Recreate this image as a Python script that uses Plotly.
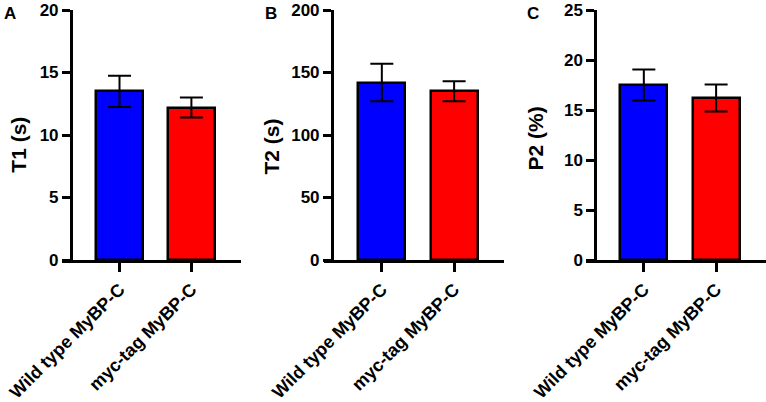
import plotly.graph_objects as go

categories = ["Wild type MyBP-C", "myc-tag MyBP-C"]
bar_colors = ["#0000FF", "#FF0000"]

t1_mean = [13.5, 12.2]
t1_sd = [1.25, 0.8]
t2_mean = [142, 135]
t2_sd = [15, 8]
p2_mean = [17.5, 16.2]
p2_sd = [1.55, 1.35]

panels = [
    ("A", "T1 (s)", t1_mean, t1_sd, [0, 20], 5),
    ("B", "T2 (s)", t2_mean, t2_sd, [0, 200], 50),
    ("C", "P2 (%)", p2_mean, p2_sd, [0, 25], 5),
]

W, H = 766, 402
T, B = 10, 142
PH = H - T - B
x_domains_px = [(62, 241), (324, 504), (586, 766)]
y_axis_px = [70.7, 331.7, 595]
letter_px = [2, 263, 525]
title_px = [(17.7, 145), (270.5, 147), (534.5, 139)]

FONT = "Liberation Sans, Arial, sans-serif"


def px_x(p):
    return p / W


def px_y(p):
    return 1 - (p - T) / PH


fig = go.Figure()
layout = dict(
    width=W, height=H,
    margin=dict(l=0, r=0, t=T, b=B, autoexpand=False),
    paper_bgcolor="white", plot_bgcolor="white",
    showlegend=False,
    bargap=0,
    font=dict(family=FONT, color="black", weight="bold"),
)
annotations = []
for i, (letter, title, means, sds, yr, dt) in enumerate(panels):
    n = "" if i == 0 else str(i + 1)
    xa, ya = "x" + n, "y" + n
    fig.add_trace(go.Bar(
        x=categories, y=means,
        marker=dict(color=bar_colors, line=dict(color="black", width=2.5)),
        width=0.65,
        error_y=dict(type="data", array=sds, visible=True, color="black",
                     thickness=2, width=11.5),
        xaxis=xa, yaxis=ya, cliponaxis=False,
    ))
    x0, x1 = x_domains_px[i]
    layout["xaxis" + n] = dict(
        domain=[px_x(x0), px_x(x1)], anchor=ya, range=[-0.8, 1.69],
        showline=True, linecolor="black", linewidth=2.5,
        ticks="outside", ticklen=9, tickwidth=2.5, tickcolor="black",
        tickangle=-45, tickfont=dict(size=18, family=FONT, weight="bold"),
        showgrid=False, zeroline=False, type="category", automargin=False,
    )
    layout["yaxis" + n] = dict(
        domain=[0, 1], anchor="free", position=px_x(y_axis_px[i]),
        range=yr, dtick=dt,
        showline=True, linecolor="black", linewidth=2.5,
        ticks="outside", ticklen=8, tickwidth=2.5, tickcolor="black",
        tickfont=dict(size=17, family=FONT, weight="bold"),
        ticklabeloverflow="allow",
        showgrid=False, zeroline=False, automargin=False,
    )
    annotations.append(dict(
        text=letter, xref="paper", yref="paper",
        x=px_x(letter_px[i]), y=px_y(13), xanchor="left", yanchor="middle",
        showarrow=False, font=dict(size=17, family=FONT, weight="bold"),
    ))
    tx, ty = title_px[i]
    annotations.append(dict(
        text=title, xref="paper", yref="paper", textangle=-90,
        x=px_x(tx), y=px_y(ty), xanchor="center", yanchor="middle",
        showarrow=False, font=dict(size=21, family=FONT, weight="bold"),
    ))
layout["annotations"] = annotations
fig.update_layout(**layout)
fig.write_html("out.html", post_script="document.body.style.margin='0px';",
               config={"displayModeBar": False})
